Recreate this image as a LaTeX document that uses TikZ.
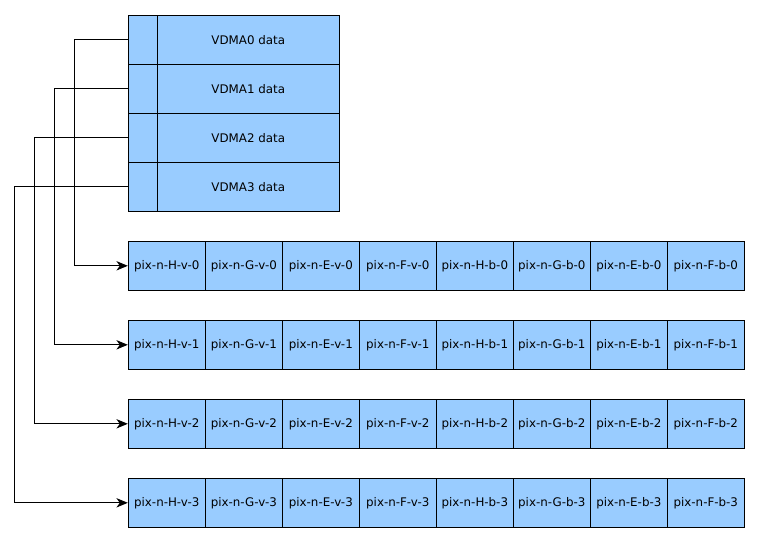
\documentclass[tikz,border=0pt]{standalone}
\usepackage{fontspec}
\setmainfont{DejaVu Sans}
\usetikzlibrary{arrows.meta}
\definecolor{cellblue}{HTML}{99CCFF}

\begin{document}
\begin{tikzpicture}[x=0.75pt,y=-0.75pt,line width=0.75pt,
    cell/.style={draw,fill=cellblue,inner sep=0pt,minimum height=36.75pt,
        font=\fontsize{8.9}{10.5}\selectfont},
    tagcell/.style={cell,minimum width=21.75pt},
    datacell/.style={cell,minimum width=136.5pt},
    pixcell/.style={cell,minimum width=57.75pt},
    link/.style={-{Stealth[length=8.5pt,width=7pt,inset=2.5pt]}}]
        \useasboundingbox (0,0) rectangle (760,543);
        % VDMA buffers
        \foreach \i in {0,1,2,3}{
            \node[tagcell] (tag\i) at (142.8,39.8+49*\i) {};
            \node[datacell] (vdma\i) at (248.3,39.8+49*\i) {VDMA\i{} data};
        }
        % pixel rows
        \foreach \i in {0,1,2,3}{
            \foreach \lbl [count=\k from 0] in {H-v,G-v,E-v,F-v,H-b,G-b,E-b,F-b}{
                \node[pixcell] (p\i-\k) at (166.8+77*\k,265.8+79*\i) {pix-n-\lbl-\i};
            }
        }
        % links
        \foreach \i in {0,1,2,3}{
            \draw[link] (tag\i.west) -- ++(-53-20*\i,0) |- (p\i-0.west);
        }
    \end{tikzpicture}
\end{document}
